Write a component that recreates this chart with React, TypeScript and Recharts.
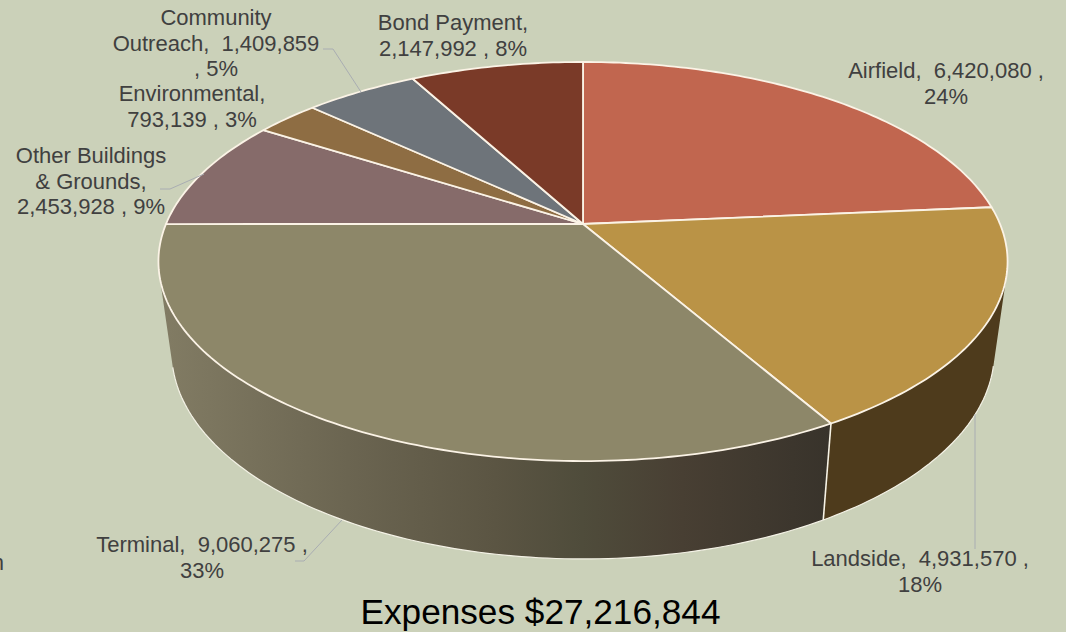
import { PieChart, Pie } from 'recharts';

// expense categories, clockwise from 12 o'clock
const categories = ['Airfield', 'Landside', 'Terminal', 'Other Buildings & Grounds', 'Environmental', 'Community Outreach', 'Bond Payment'];
const expenses = [6420080, 4931570, 9060275, 2453928, 793139, 1409859, 2147992];

const faceColors = ['#C1664F', '#BA9346', '#8D8769', '#866B6A', '#8E6D43', '#6E747A', '#7A3A28'];
const wallColors = ['#6E3A2A', '#4E3B1C', 'url(#terminalWall)', '#5A4847', '#5E4A2E', '#4A4E52', '#52271B'];

const labelLines = [
  ['Airfield,  6,420,080 ,', '24%'],
  ['Landside,  4,931,570 ,', '18%'],
  ['Terminal,  9,060,275 ,', '33%'],
  ['Other Buildings', '& Grounds,', '2,453,928 , 9%'],
  ['Environmental,', '793,139 , 3%'],
  ['Community', 'Outreach,  1,409,859', ', 5%'],
  ['Bond Payment,', '2,147,992 , 8%'],
];
// centre x and first baseline of each label block
const labelAnchors = [[946, 78], [920, 566], [202, 552], [91, 163], [192, 101], [216, 25], [453, 30]];
const labelLeaders: (string | null)[] = [
  null,
  '975,414 975,549',
  '295,561 304,561 342,520',
  '160,189 170,189 204,174',
  null,
  '323,49 333,49 361,92',
  null,
];

const title = 'Expenses $27,216,844';
const tableData = categories.map((name, i) => ({ name, value: expenses[i] }));

// perspective of the disc: a is the foreshortening along the view direction
const TILT = 0.188;
const TOP_RIM = { rx: 417, ry: 192.5, dy: 0 };
const BOTTOM_RIM = { rx: 404, ry: 199.7, dy: 89 };
const RAD = Math.PI / 180;

type Pt = { x: number; y: number; v: number };

function rimPoint(cx: number, cy: number, rim: typeof TOP_RIM, deg: number): Pt {
  const u = Math.cos(deg * RAD);
  const v = -Math.sin(deg * RAD);
  const w = 1 - TILT * v;
  return { x: cx + (rim.rx * u) / w, y: cy + rim.dy + (rim.ry * v) / w, v };
}

function arcPoints(cx: number, cy: number, rim: typeof TOP_RIM, start: number, end: number) {
  const steps = Math.max(2, Math.ceil(Math.abs(end - start)));
  const pts: Pt[] = [];
  for (let i = 0; i <= steps; i++) pts.push(rimPoint(cx, cy, rim, start + ((end - start) * i) / steps));
  return pts;
}

const toPath = (pts: { x: number; y: number }[]) =>
  pts.map((p, i) => `${i ? 'L' : 'M'}${p.x.toFixed(2)},${p.y.toFixed(2)}`).join(' ');

// one small quad per step, all wound the same way, so the silhouette is filled too
function wallQuads(top: Pt[], bottom: Pt[]) {
  const parts: string[] = [];
  for (let i = 0; i < top.length - 1; i++) {
    const quad = [top[i], top[i + 1], bottom[i + 1], bottom[i]];
    let area = 0;
    quad.forEach((p, k) => {
      const q = quad[(k + 1) % 4];
      area += p.x * q.y - q.x * p.y;
    });
    parts.push(`${toPath(area < 0 ? [...quad].reverse() : quad)} Z`);
  }
  return parts.join(' ');
}

function TopFace(props: any) {
  const { cx, cy, startAngle, endAngle, index } = props;
  const arc = arcPoints(cx, cy, TOP_RIM, startAngle, endAngle);
  return (
    <path
      d={`M${cx},${cy} ${toPath(arc).replace('M', 'L')} Z`}
      fill={faceColors[index]}
      stroke="#FBF3E6"
      strokeWidth={1.8}
      strokeLinejoin="round"
    />
  );
}

function SideWall(props: any) {
  const { cx, cy, startAngle, endAngle, index } = props;
  const top = arcPoints(cx, cy, TOP_RIM, startAngle, endAngle);
  const bottom = arcPoints(cx, cy, BOTTOM_RIM, startAngle, endAngle);
  const visibleEdge = bottom.filter((p) => p.v >= 0.25);
  const frontStart = top[0].v > 0.3;
  return (
    <g>
      <path d={wallQuads(top, bottom)} fill={wallColors[index]} />
      {visibleEdge.length > 1 && <path d={toPath(visibleEdge)} fill="none" stroke="#F4F2E6" strokeWidth={1.2} />}
      {frontStart && (
        <path d={toPath([top[0], bottom[0]])} fill="none" stroke="#F7F3E6" strokeWidth={1.6} />
      )}
    </g>
  );
}

function SliceLabel(props: any) {
  const { index } = props;
  const [x, y] = labelAnchors[index];
  const leader = labelLeaders[index];
  return (
    <g>
      {leader && <polyline points={leader} fill="none" stroke="#A9ADB2" strokeWidth={1} />}
      <text
        x={x}
        y={y}
        textAnchor="middle"
        fontFamily="'Liberation Sans', Arial, sans-serif"
        fontSize={22}
        fill="#404040"
        style={{ whiteSpace: 'pre' }}
      >
        {labelLines[index].map((line, i) => (
          <tspan key={i} x={x} y={y + i * 25.6}>
            {line}
          </tspan>
        ))}
      </text>
    </g>
  );
}

export default function App() {
  return (
    <div style={{ position: 'absolute', left: 0, top: 0, width: 1066, height: 632, background: '#CBD1B9', overflow: 'hidden' }}>
      <PieChart width={1066} height={632} margin={{ top: 0, right: 0, bottom: 0, left: 0 }}>
        <defs>
          <linearGradient id="terminalWall" gradientUnits="userSpaceOnUse" x1={160} y1={0} x2={830} y2={0}>
            <stop offset="0" stopColor="#827C64" />
            <stop offset="0.28" stopColor="#6B6551" />
            <stop offset="0.5" stopColor="#5B5543" />
            <stop offset="0.63" stopColor="#4F4C3B" />
            <stop offset="0.78" stopColor="#483F33" />
            <stop offset="1" stopColor="#38332B" />
          </linearGradient>
        </defs>
        <Pie
          data={tableData}
          dataKey="value"
          nameKey="name"
          cx={583}
          cy={224}
          outerRadius={190}
          startAngle={90}
          endAngle={-270}
          stroke="none"
          shape={SideWall}
          isAnimationActive={false}
        />
        <Pie
          data={tableData}
          dataKey="value"
          nameKey="name"
          cx={583}
          cy={224}
          outerRadius={190}
          startAngle={90}
          endAngle={-270}
          shape={TopFace}
          label={SliceLabel}
          labelLine={false}
          isAnimationActive={false}
        />
        <text x={540.5} y={624} textAnchor="middle" fontFamily="'Liberation Sans', Arial, sans-serif" fontSize={35.2} fill="#000000">
          {title}
        </text>
        <text x={4} y={570} textAnchor="end" fontFamily="'Liberation Sans', Arial, sans-serif" fontSize={22} fill="#404040">
          n
        </text>
      </PieChart>
    </div>
  );
}
